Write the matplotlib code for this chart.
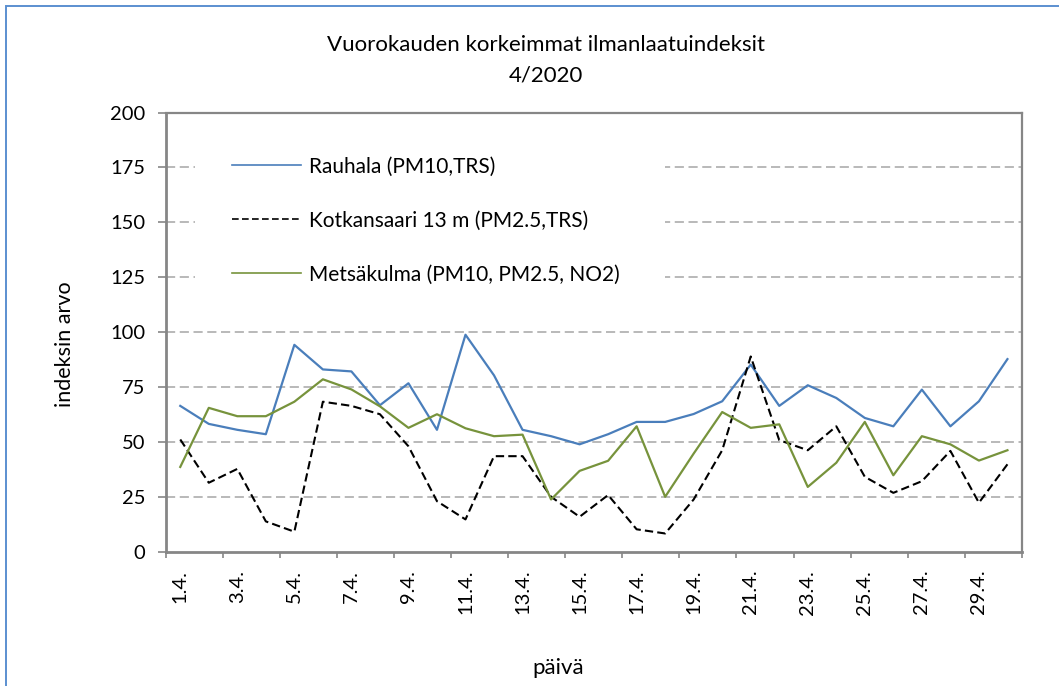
import matplotlib
matplotlib.use("Agg")
import matplotlib.pyplot as plt
from matplotlib.patches import Rectangle

plt.rcParams['font.family'] = ['Lato', 'DejaVu Sans']

days = list(range(1, 31))
day_labels = [f"{d}.4." for d in days]

rauhala = [66.4, 58.2, 55.5, 53.5, 94.2, 83.0, 82.1, 66.7, 76.7, 55.5,
           98.8, 80.3, 55.5, 52.6, 48.9, 53.5, 59.1, 59.1, 62.7, 68.5,
           85.2, 66.4, 75.8, 70.0, 60.9, 57.1, 73.8, 57.1, 68.5, 87.7]
kotkansaari = [51.1, 31.4, 37.7, 13.8, 9.1, 68.3, 66.4, 62.6, 48.0, 23.0,
               14.7, 43.5, 43.5, 25.0, 15.9, 25.8, 10.2, 8.3, 23.8, 46.2,
               88.9, 50.8, 46.2, 57.1, 34.1, 26.8, 32.1, 45.9, 22.3, 39.8]
metsakulma = [38.6, 65.5, 61.7, 61.7, 68.3, 78.5, 73.9, 66.2, 56.4, 62.6,
              56.2, 52.6, 53.3, 23.8, 36.8, 41.4, 57.1, 25.0, 44.7, 63.6,
              56.4, 58.0, 29.5, 40.5, 59.1, 34.8, 52.6, 48.9, 41.5, 46.2]

series_names = ["Rauhala (PM10,TRS)", "Kotkansaari 13 m (PM2.5,TRS)",
                "Metsäkulma (PM10, PM2.5, NO2)"]
title_line1 = "Vuorokauden korkeimmat ilmanlaatuindeksit"
title_line2 = "4/2020"
y_ticks = [0, 25, 50, 75, 100, 125, 150, 175, 200]

W, H = 1059, 686
fig = plt.figure(figsize=(W / 100, H / 100), dpi=100)
ax = fig.add_axes([166 / W, 1 - 551.7 / H, (1021.7 - 166) / W, (551.7 - 112.5) / H])

grid_col = '#A6A6A6'
spine_col = '#868686'
for y in y_ticks[1:-1]:
    ax.axhline(y, color=grid_col, lw=1.1, ls=(0, (6, 3)), zorder=1)

# white legend background hiding the gridlines
ax.add_patch(Rectangle((195 / W, 1 - 300 / H), (665 - 195) / W, 160 / H,
                       transform=fig.transFigure, facecolor='white',
                       edgecolor='none', zorder=2))

l1, = ax.plot(days, rauhala, color='#4A7EBB', lw=1.6, zorder=3)
l2, = ax.plot(days, kotkansaari, color='black', lw=1.5, ls=(0, (4, 2)), zorder=3)
l3, = ax.plot(days, metsakulma, color='#77933C', lw=1.6, zorder=3)

ax.set_xlim(0.5, 30.5)
ax.set_ylim(0, 200)
ax.set_yticks(y_ticks)
ax.set_yticklabels([str(v) for v in y_ticks])
ax.tick_params(axis='y', direction='out', length=6, width=1.2, color=spine_col,
               labelsize=14.5, pad=9)

major_x = [d - 0.5 for d in days[::2]] + [30.5]
ax.set_xticks(major_x)
ax.set_xticklabels([''] * len(major_x))
ax.tick_params(axis='x', which='major', direction='out', length=4, width=1.2, color=spine_col)
ax.set_xticks(days[::2], minor=True)
ax.set_xticklabels(day_labels[::2], minor=True, rotation=90, fontsize=14.5)
ax.tick_params(axis='x', which='minor', length=0, pad=13)

for s in ['left', 'bottom']:
    ax.spines[s].set_color(spine_col)
    ax.spines[s].set_linewidth(2.0)
for s in ['top', 'right']:
    ax.spines[s].set_color(spine_col)
    ax.spines[s].set_linewidth(1.6)

fs_leg = 15
leg = ax.legend([l1, l2, l3], series_names, loc='upper left',
                bbox_to_anchor=(221.5 / W, 1 - 146 / H), bbox_transform=fig.transFigure,
                frameon=False, fontsize=fs_leg, handlelength=3.3, handletextpad=0.4,
                labelspacing=1.64, borderpad=0.5, borderaxespad=0)
leg.set_zorder(4)
for h in leg.legend_handles:
    h.set_linewidth(1.2)

ax.set_ylabel('indeksin arvo', fontsize=15.5)
ax.yaxis.set_label_coords(65 / W, 1 - 344 / H, transform=fig.transFigure)
ax.set_xlabel('päivä', fontsize=16)
ax.xaxis.set_label_coords(558 / W, 1 - 668 / H, transform=fig.transFigure)
ax.xaxis.label.set_va('center')
ax.yaxis.label.set_va('center')

fig.text(546 / W, 1 - 45 / H, title_line1, ha='center', va='center', fontsize=16)
fig.text(546 / W, 1 - 75 / H, title_line2, ha='center', va='center', fontsize=16)

fig.patches.append(Rectangle((6 / W, -0.1), 2, 1.1 - 6 / H, transform=fig.transFigure,
                             fill=False, edgecolor='#5B8FD0', lw=1.4, figure=fig))

fig.savefig('out.png', dpi=100)
